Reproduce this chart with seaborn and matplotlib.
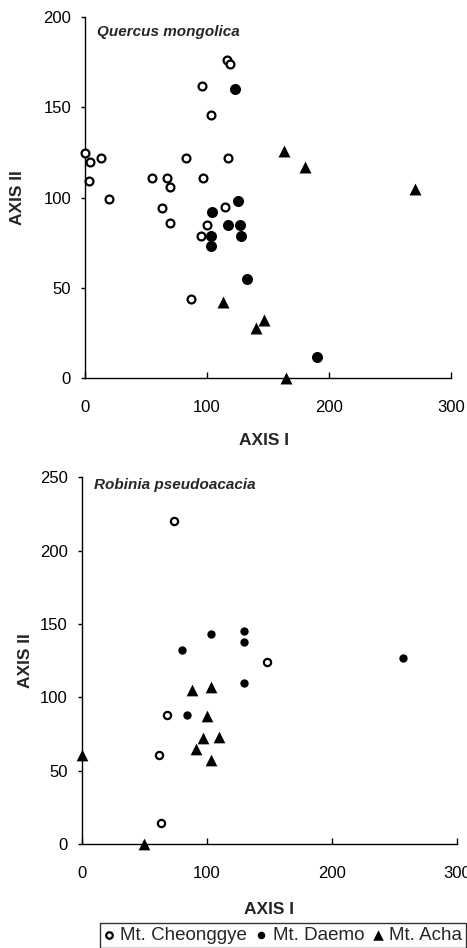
import matplotlib
matplotlib.use('Agg')
import matplotlib.pyplot as plt
import seaborn as sns

# Quercus mongolica (upper panel)
qm_cheonggye_x = [0, 4, 13, 3, 20, 55, 67, 70, 83, 63, 70, 96, 103, 116, 119, 117, 97, 115, 100, 95, 87]
qm_cheonggye_y = [125, 120, 122, 109, 99, 111, 111, 106, 122, 94, 86, 162, 146, 176, 174, 122, 111, 95, 85, 79, 44]
qm_daemo_x = [123, 125, 104, 117, 127, 103, 128, 103, 133, 190]
qm_daemo_y = [160, 98, 92, 85, 85, 79, 79, 73, 55, 12]
qm_acha_x = [163, 180, 270, 113, 140, 147, 165]
qm_acha_y = [126, 117, 105, 42, 28, 32, 0]

# Robinia pseudoacacia (lower panel)
rp_cheonggye_x = [74, 148, 68, 62, 63]
rp_cheonggye_y = [220, 124, 88, 61, 14]
rp_daemo_x = [80, 103, 130, 130, 257, 130, 84]
rp_daemo_y = [132, 143, 145, 138, 127, 110, 88]
rp_acha_x = [88, 103, 100, 97, 110, 91, 103, 0, 50]
rp_acha_y = [105, 107, 87, 72, 73, 65, 57, 61, 0]

sites = ['Mt. Cheonggye', 'Mt. Daemo', 'Mt. Acha']
x_ticks = [0, 100, 200, 300]

sns.set_style('ticks')
plt.rcParams['font.family'] = ['Liberation Sans', 'DejaVu Sans']

fig = plt.figure(figsize=(4.67, 9.48), dpi=100)
ax1 = fig.add_axes([0.182, 0.601, 0.784, 0.381])
ax2 = fig.add_axes([0.175, 0.1097, 0.804, 0.3868])

# marker styles per site
styles = {
    'Mt. Cheonggye': dict(marker='o', facecolor='white', edgecolor='black', linewidth=1.6),
    'Mt. Daemo': dict(marker='o', facecolor='black', edgecolor='black', linewidth=0),
    'Mt. Acha': dict(marker='^', facecolor='black', edgecolor='black', linewidth=0),
}
sizes_top = {'Mt. Cheonggye': 32, 'Mt. Daemo': 63, 'Mt. Acha': 74}
sizes_bot = {'Mt. Cheonggye': 27, 'Mt. Daemo': 36, 'Mt. Acha': 71}

top_data = {'Mt. Cheonggye': (qm_cheonggye_x, qm_cheonggye_y),
            'Mt. Daemo': (qm_daemo_x, qm_daemo_y),
            'Mt. Acha': (qm_acha_x, qm_acha_y)}
bot_data = {'Mt. Cheonggye': (rp_cheonggye_x, rp_cheonggye_y),
            'Mt. Daemo': (rp_daemo_x, rp_daemo_y),
            'Mt. Acha': (rp_acha_x, rp_acha_y)}

for ax, data, sizes in [(ax1, top_data, sizes_top), (ax2, bot_data, sizes_bot)]:
    for site in sites:
        xs, ys = data[site]
        sns.scatterplot(x=xs, y=ys, ax=ax, s=sizes[site], clip_on=False,
                        label=site, legend=False, zorder=3, **styles[site])

# axes cosmetics
for ax, ymax, title, tx, ty in [(ax1, 200, 'Quercus mongolica', 0.034, 0.959),
                                (ax2, 250, 'Robinia pseudoacacia', 0.033, 0.979)]:
    ax.set_xlim(0, 300)
    ax.set_ylim(0, ymax)
    ax.set_xticks(x_ticks)
    ax.set_yticks(range(0, ymax + 1, 50))
    sns.despine(ax=ax)
    for sp in ['left', 'bottom']:
        ax.spines[sp].set_linewidth(1.0)
        ax.spines[sp].set_color('black')
    ax.tick_params(axis='y', direction='out', length=3, width=1, pad=7, labelsize=12, colors='black')
    ax.tick_params(axis='x', direction='in', length=4, width=1, pad=16, labelsize=12, colors='black')
    ax.text(tx, ty, title, transform=ax.transAxes, fontsize=11, fontweight='bold',
            fontstyle='italic', ha='left', va='center')
    ax.set_xlabel('AXIS I', fontsize=12.5, fontweight='bold')
    ax.set_ylabel('AXIS II', fontsize=12.5, fontweight='bold')

ax1.xaxis.set_label_coords(0.49, -0.152)
ax1.yaxis.set_label_coords(-0.164, 0.5)
ax2.xaxis.set_label_coords(0.50, -0.157)
ax2.yaxis.set_label_coords(-0.129, 0.5)

handles = ax2.collections[:3]
leg = fig.legend(handles, sites, loc='lower right', bbox_to_anchor=(0.998, 0.0),
                 ncol=3, frameon=True, fancybox=False, edgecolor='black', fontsize=13.5,
                 handlelength=0.6, handletextpad=0.3, columnspacing=0.45,
                 borderpad=0.2, borderaxespad=0, markerscale=0.9)
leg.get_frame().set_linewidth(1.0)

fig.savefig('out.png', dpi=100)
